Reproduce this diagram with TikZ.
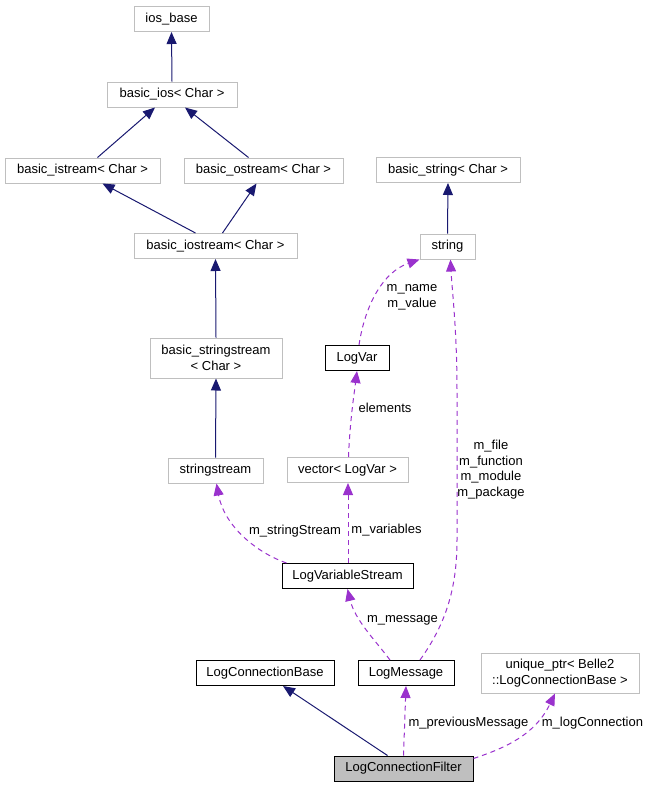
\documentclass[tikz,border=0pt]{standalone}
\usepackage{fontspec}
\setmainfont{Liberation Sans}
\usetikzlibrary{arrows.meta,calc}
\definecolor{boxgray}{HTML}{BFBFBF}
\definecolor{inhcol}{HTML}{191970}
\definecolor{usecol}{HTML}{9A32CD}
\definecolor{fillgray}{HTML}{BFBFBF}
\begin{document}
\begin{tikzpicture}[x=1pt,y=-1pt,
  every node/.style={font=\fontsize{13}{15.5}\selectfont, inner sep=0pt},
  extbox/.style={draw=boxgray, line width=1pt, minimum height=25pt, align=center, fill=white},
  docbox/.style={draw=black, line width=1pt, minimum height=25pt, align=center, fill=white},
  inh/.style={draw=inhcol, line width=1pt, -{Triangle[length=12pt,width=10pt]}, color=inhcol},
  use/.style={draw=usecol, line width=1pt, dash pattern=on 5pt off 4pt, -{Triangle[length=12pt,width=10pt]}, color=usecol},
  lbl/.style={align=center}
]
\useasboundingbox (0,0) rectangle (653,788);

% nodes
\node[extbox, minimum width=75pt] (iosbase) at (171.5,19) {ios\_base};
\node[extbox, minimum width=130pt] (basicios) at (172,94.5) {basic\_ios{<} Char {>}};
\node[extbox, minimum width=155pt] (istream) at (82.5,170.5) {basic\_istream{<} Char {>}};
\node[extbox, minimum width=159pt] (ostream) at (263.5,170.5) {basic\_ostream{<} Char {>}};
\node[extbox, minimum width=163pt] (iostream) at (215.5,246) {basic\_iostream{<} Char {>}};
\node[extbox, minimum width=132pt, minimum height=40pt] (bsstream) at (216,358) {basic\_stringstream\\{<} Char {>}};
\node[extbox, minimum width=95pt] (sstream) at (215.5,470.5) {stringstream};
\node[extbox, minimum width=121pt] (vector) at (347.5,470) {vector{<} LogVar {>}};
\node[docbox, minimum width=64pt] (logvar) at (357,358) {LogVar};
\node[extbox, minimum width=55pt] (string) at (447.5,246.5) {string};
\node[extbox, minimum width=144pt] (bstring) at (448,170) {basic\_string{<} Char {>}};
\node[docbox, minimum width=131pt] (lvs) at (347.5,576) {LogVariableStream};
\node[docbox, minimum width=138pt] (lcb) at (265,673) {LogConnectionBase};
\node[docbox, minimum width=96pt] (lmsg) at (406,673) {LogMessage};
\node[extbox, minimum width=158pt, minimum height=40pt] (uptr) at (560,673) {unique\_ptr{<} Belle2\\::LogConnectionBase {>}};
\node[docbox, minimum width=139pt, fill=fillgray] (lcf) at (403.5,768.5) {LogConnectionFilter};

% inheritance
\draw[inh] (basicios.north) -- (iosbase.south);
\draw[inh] ([xshift=15pt]istream.north) -- ([xshift=-17pt]basicios.south);
\draw[inh] ([xshift=-15pt]ostream.north) -- ([xshift=13pt]basicios.south);
\draw[inh] ([xshift=-20pt]iostream.north) -- ([xshift=20pt]istream.south);
\draw[inh] ([xshift=7pt]iostream.north) -- ([xshift=-7pt]ostream.south);
\draw[inh] (bsstream.north) -- (iostream.south);
\draw[inh] (sstream.north) -- (bsstream.south);
\draw[inh] (string.north) -- (bstring.south);
\draw[inh] ([xshift=-16pt]lcf.north) -- ([xshift=18pt]lcb.south);

% usage
\draw[use] ([xshift=5pt]lvs.north west) .. controls (255,552) and (224,525) .. ([xshift=1pt]sstream.south);
\draw[use] ([xshift=0.5pt]lvs.north) -- ([xshift=0.5pt]vector.south);
\draw[use] ([xshift=1pt]vector.north) .. controls (350,420) and (354,395) .. (logvar.south);
\draw[use] ([xshift=2pt]logvar.north) .. controls (365,305) and (383,272) .. (string.south west);
\draw[use] ([xshift=14pt]lmsg.north) .. controls (445,625) and (457,590) .. (457,540)
   -- (457,390) .. controls (457,330) and (452,290) .. ([xshift=3pt]string.south);
\draw[use] ([xshift=-16pt]lmsg.north) .. controls (375,640) and (355,620) .. (lvs.south);
\draw[use] (lcf.north) -- (lmsg.south);
\draw[use] ([yshift=-3pt]lcf.north east) .. controls (505,748) and (535,735) .. ([xshift=-5pt]uptr.south);

% labels
\node[lbl] (l1) at (295,531) {m\_stringStream};
\node[lbl] (l2) at (386.5,530) {m\_variables};
\node[lbl] (l3) at (385,408) {elements};
\node[lbl] (l4) at (412,297.5) {m\_name\\m\_value};
\node[lbl] (l5) at (491,469.5) {m\_file\\m\_function\\m\_module\\m\_package};
\node[lbl] (l6) at (402.5,620) {m\_message};
\node[lbl] (l7) at (468.5,723) {m\_previousMessage};
\node[lbl] (l8) at (592.5,723) {m\_logConnection};
\end{tikzpicture}
\end{document}
